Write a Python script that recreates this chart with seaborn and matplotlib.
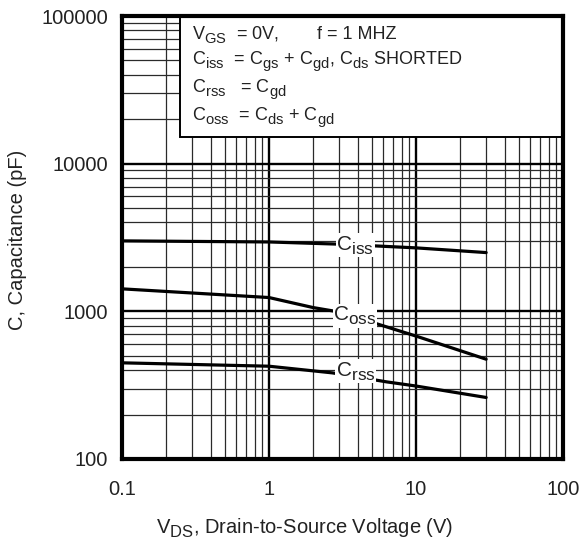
import numpy as np
import pandas as pd
import matplotlib
matplotlib.use("Agg")
import matplotlib.pyplot as plt
import seaborn as sns
from matplotlib.ticker import LogLocator, FixedLocator, FixedFormatter, NullFormatter
from matplotlib.patches import Rectangle
try:
    import matplotlib._mathtext as _mt
    _mt.SHRINK_FACTOR = 0.82
    _mt.FontConstantsBase.sub1 = 0.45
    _mt.FontConstantsBase.sub2 = 0.6
except Exception:
    pass

# ---- data ----
ciss_v = [0.1, 1, 3, 10, 30]
ciss_c = [3000, 2950, 2850, 2690, 2500]
coss_v = [0.1, 1, 2, 3, 6.3, 10, 30]
coss_c = [1420, 1240, 1060, 990, 785, 680, 474]
crss_v = [0.1, 1, 2.7, 6.3, 10, 30]
crss_c = [448, 425, 383, 333, 312, 261]
series_names = ["Ciss", "Coss", "Crss"]
series_labels = [r"C$_{\mathrm{iss}}$", r"C$_{\mathrm{oss}}$", r"C$_{\mathrm{rss}}$"]
label_pos_v = [3.85, 3.85, 3.9]
label_pos_c = [2800, 930, 392]
x_ticks = [0.1, 1, 10, 100]
x_ticklabels = ["0.1", "1", "10", "100"]
y_ticks = [100, 1000, 10000, 100000]
y_ticklabels = ["100", "1000", "10000", "100000"]
legend_lines = [
    r"$\mathrm{V_{GS}}$  = 0V,",
    r"$\mathrm{C_{iss}}$  = $\mathrm{C_{gs}}$ + $\mathrm{C_{gd}}$, $\mathrm{C_{ds}}$ SHORTED",
    r"$\mathrm{C_{rss}}$   = $\mathrm{C_{gd}}$",
    r"$\mathrm{C_{oss}}$  = $\mathrm{C_{ds}}$ + $\mathrm{C_{gd}}$",
]
freq_text = "f = 1 MHZ"

df = pd.concat([
    pd.DataFrame({"V": ciss_v, "C": ciss_c, "s": "Ciss"}),
    pd.DataFrame({"V": coss_v, "C": coss_c, "s": "Coss"}),
    pd.DataFrame({"V": crss_v, "C": crss_c, "s": "Crss"}),
])

sns.set_theme(style="white")
plt.rcParams["font.family"] = ["Liberation Sans", "DejaVu Sans"]
plt.rcParams["mathtext.fontset"] = "custom"
plt.rcParams["mathtext.rm"] = "Liberation Sans"
plt.rcParams["mathtext.it"] = "Liberation Sans:italic"
plt.rcParams["mathtext.bf"] = "Liberation Sans:bold"

W, H = 584, 542
fig = plt.figure(figsize=(W / 100, H / 100), dpi=100)
L, R, T, B = 122, 563, 16, 459
ax = fig.add_axes([L / W, 1 - B / H, (R - L) / W, (B - T) / H])

sns.lineplot(data=df, x="V", y="C", hue="s", units="s", estimator=None,
             palette={n: "black" for n in series_names}, linewidth=2.3,
             legend=False, ax=ax, zorder=4, sort=False)

ax.set_xscale("log")
ax.set_yscale("log")
ax.set_xlim(0.1, 100)
ax.set_ylim(100, 100000)

ax.xaxis.set_major_locator(FixedLocator(x_ticks))
ax.xaxis.set_major_formatter(FixedFormatter(x_ticklabels))
ax.yaxis.set_major_locator(FixedLocator(y_ticks))
ax.yaxis.set_major_formatter(FixedFormatter(y_ticklabels))
ax.xaxis.set_minor_locator(LogLocator(base=10, subs=np.arange(2, 10), numticks=20))
ax.yaxis.set_minor_locator(LogLocator(base=10, subs=np.arange(2, 10), numticks=20))
ax.xaxis.set_minor_formatter(NullFormatter())
ax.yaxis.set_minor_formatter(NullFormatter())

ax.grid(which="major", color="black", linewidth=1.7)
ax.grid(which="minor", color="#2a2a2a", linewidth=0.9)
ax.set_axisbelow(True)
ax.tick_params(which="both", length=0, labelsize=14.5, colors="#222222")
ax.tick_params(axis="x", pad=15)
ax.tick_params(axis="y", pad=10)
for sp in ax.spines.values():
    sp.set_linewidth(3.0)
    sp.set_color("black")
    sp.set_zorder(10)

ax.set_xlabel(r"V$_{\mathrm{DS}}$, Drain-to-Source Voltage (V)", fontsize=14.5, color="#222222")
ax.set_ylabel("C, Capacitance (pF)", fontsize=14.5, color="#222222")
ax.xaxis.set_label_coords(0.415, -0.128)
ax.yaxis.set_label_coords(-0.215, 0.495)

# box with the test conditions
x0 = (180 - L) / (R - L)
y0 = (B - 137) / (B - T)
ax.add_patch(Rectangle((x0, y0), 1 - x0, 1 - y0, transform=ax.transAxes,
                       facecolor="white", edgecolor="black", linewidth=1.4, zorder=6))
baselines = [39, 64, 93, 121]
for txt, yb in zip(legend_lines, baselines):
    fig.text(192 / W, 1 - yb / H, txt, fontsize=13, va="baseline", ha="left", color="#222222", zorder=12)
fig.text(317 / W, 1 - baselines[0] / H, freq_text, fontsize=13, va="baseline", ha="left", color="#222222", zorder=12)

# curve labels
for lab, xv, yv in zip(series_labels, label_pos_v, label_pos_c):
    ax.text(xv, yv, lab, fontsize=15, ha="center", va="center", color="#222222", zorder=8,
            bbox=dict(facecolor="white", edgecolor="none", pad=0.5))

fig.savefig("out.png", dpi=100)
